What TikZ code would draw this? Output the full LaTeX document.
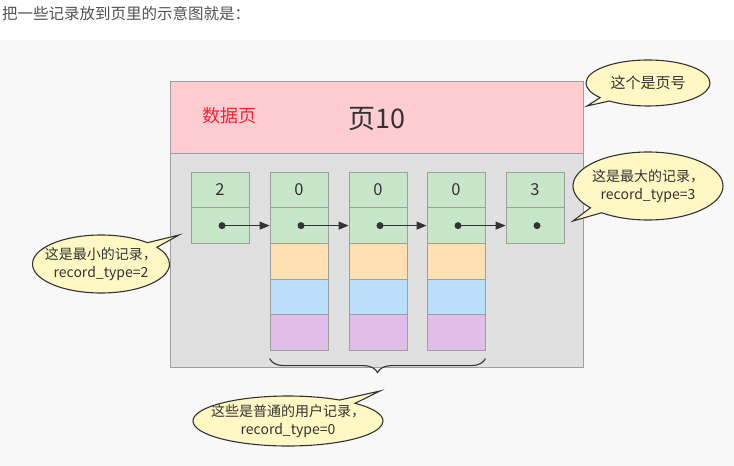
\documentclass[tikz,border=0pt]{standalone}
\usepackage{fontspec}
\setmainfont{Noto Sans CJK SC}
\usetikzlibrary{shapes.callouts,decorations.pathreplacing,arrows.meta}
\definecolor{pagepink}{HTML}{FFCCD2}
\definecolor{pagegray}{HTML}{E0E0E0}
\definecolor{edgegray}{HTML}{9E9E9E}
\definecolor{recgreen}{HTML}{C8E6C9}
\definecolor{recorange}{HTML}{FFE0B2}
\definecolor{recblue}{HTML}{BBDEFB}
\definecolor{recpurple}{HTML}{E1BEE7}
\definecolor{notefill}{HTML}{FFF8C4}
\definecolor{ink}{HTML}{333333}
\definecolor{canvas}{HTML}{F8F8F8}
\definecolor{labelred}{HTML}{FF1F2F}
\begin{document}
\begin{tikzpicture}[x=1pt,y=-1pt,
  cell/.style={draw=edgegray, line width=0.8pt, minimum width=58pt,
    minimum height=35.6pt, inner sep=0pt, text=ink,
    font=\fontsize{16.5}{18}\selectfont},
  note/.style={ellipse callout, draw=ink, line width=1.1pt, fill=notefill,
    inner sep=0pt, callout pointer arc=12},
  notetext/.style={text=ink, inner sep=0pt, align=center,
    font=\fontsize{14}{18}\selectfont},
  link/.style={draw=ink, line width=1.1pt, -{Triangle[length=10pt,width=8pt]}},
  dotmark/.style={circle, fill=ink, inner sep=0pt, minimum size=7pt},
  panel/.style={draw=edgegray, line width=0.8pt, anchor=north west,
    minimum width=413pt, inner sep=0pt}
]
\useasboundingbox (0,0) rectangle (734,466);
% page background
\fill[white] (0,0) rectangle (734,466);
\fill[canvas] (0,40) rectangle (734,466);

% intro line
\node[anchor=west, text=ink!85, inner sep=0pt, font=\fontsize{15.5}{18}\selectfont]
  (intro) at (2,14) {把一些记录放到页里的示意图就是：};

% the page: header and body
\node[panel, fill=pagepink, minimum height=72pt] (head) at (170,81) {};
\node[panel, fill=pagegray, minimum height=214pt] (body) at (170,153) {};
\node[text=labelred, font=\fontsize{18}{20}\selectfont] (kind) at (229,116) {数据页};
\node[text=ink, font=\fontsize{27}{30}\selectfont] (title) at (377,119) {页10};

% records: header cell and next-record cell
\foreach \c/\x/\v in {1/220/2, 2/299/0, 3/378/0, 4/456/0, 5/535/3} {
  \node[cell, fill=recgreen] (k\c) at (\x,190) {\v};
  \node[cell, fill=recgreen] (p\c) at (\x,225.6) {};
  \node[dotmark] (d\c) at ([xshift=2pt]p\c.center) {};
}
% user records carry their data fields
\foreach \c/\x in {2/299, 3/378, 4/456} {
  \node[cell, fill=recorange] (o\c) at (\x,261.2) {};
  \node[cell, fill=recblue] (u\c) at (\x,296.8) {};
  \node[cell, fill=recpurple] (v\c) at (\x,332.4) {};
}

% next-record links
\draw[link] (d1.center) -- (p2.west);
\draw[link] (d2.center) -- (p3.west);
\draw[link] (d3.center) -- (p4.west);
\draw[link] (d4.center) -- (p5.west);

% brace under the user records
\draw[decorate, decoration={brace, mirror, amplitude=14pt}, draw=ink, line width=1.1pt]
  ([yshift=-8pt]v2.south west) -- ([yshift=-8pt]v4.south east)
  coordinate[midway] (bracemid);

% notes: balloon outline, then its text
\node[note, minimum width=124pt, minimum height=46pt,
  callout absolute pointer={(587,106)}] (n1) at (648,83) {};
\node[notetext, font=\fontsize{15}{18}\selectfont] (t1) at (n1.center) {这个是页号};

\node[note, minimum width=150pt, minimum height=68pt,
  callout absolute pointer={(573,221)}] (n2) at (648,186) {};
\node[notetext] (t2) at (n2.center) {这是最大的记录，\\ record\_type=3};

\node[note, minimum width=137pt, minimum height=58pt,
  callout absolute pointer={(179,235)}] (n3) at (101,264) {};
\node[notetext] (t3) at (n3.center) {这是最小的记录，\\ record\_type=2};

\node[note, minimum width=190pt, minimum height=50pt,
  callout absolute pointer={(380,391)}] (n4) at (288,421) {};
\node[notetext] (t4) at (n4.center) {这些是普通的用户记录，\\ record\_type=0};
\end{tikzpicture}
\end{document}
